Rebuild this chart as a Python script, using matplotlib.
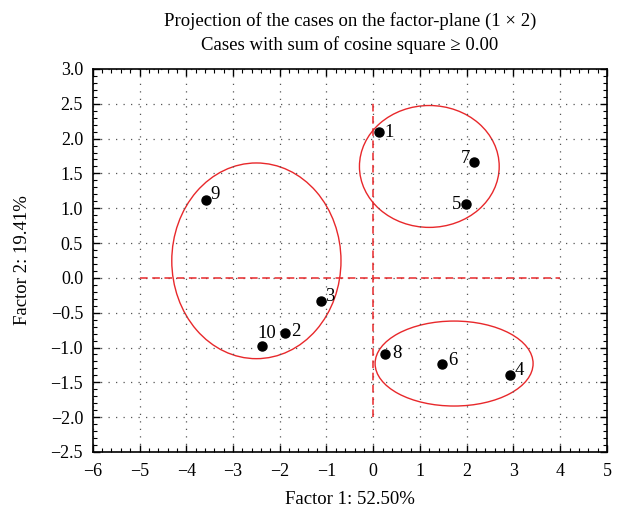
import matplotlib
matplotlib.use("Agg")
import matplotlib.pyplot as plt
from matplotlib.patches import Ellipse
from matplotlib.ticker import MultipleLocator, FuncFormatter

plt.rcParams['font.family'] = ['Liberation Serif', 'DejaVu Serif']

cases = ['1', '2', '3', '4', '5', '6', '7', '8', '9', '10']
factor1 = [0.13, -1.88, -1.12, 2.93, 1.98, 1.48, 2.16, 0.25, -3.57, -2.37]
factor2 = [2.09, -0.79, -0.33, -1.39, 1.06, -1.23, 1.66, -1.09, 1.12, -0.98]
# cluster ellipses: center x, center y, width, height
ell_cx = [1.2, -2.5, 1.73]
ell_cy = [1.6, 0.245, -1.23]
ell_w = [2.99, 3.62, 3.38]
ell_h = [1.75, 2.81, 1.22]

label_pos = {
    '1': (4, 0, 'left', 'center'), '2': (4, 1, 'left', 'center'),
    '3': (3, 3, 'left', 'center'), '4': (3, 3, 'left', 'center'),
    '5': (-3, 0, 'right', 'center'), '6': (4, 2, 'left', 'center'),
    '7': (-3, 3, 'right', 'center'), '8': (5, 0, 'left', 'center'),
    '9': (3, 4, 'left', 'center'), '10': (-4, 3, 'left', 'bottom'),
}

fig = plt.figure(figsize=(6.27, 5.07), dpi=100)
ax = fig.add_axes([0.148, 0.1085, 0.82, 0.7555])

ax.set_xlim(-6, 5)
ax.set_ylim(-2.5, 3.0)
ax.xaxis.set_major_locator(MultipleLocator(1))
ax.xaxis.set_minor_locator(MultipleLocator(0.2))
ax.yaxis.set_major_locator(MultipleLocator(0.5))
ax.yaxis.set_minor_locator(MultipleLocator(0.1))
ax.yaxis.set_major_formatter(FuncFormatter(lambda v, p: f"{v:.1f}".replace('-', '\u2212')))
ax.xaxis.set_major_formatter(FuncFormatter(lambda v, p: f"{v:.0f}".replace('-', '\u2212')))
ax.tick_params(which='both', direction='in', top=True, right=True, labelsize=13)
ax.tick_params(which='major', length=5, width=1)
ax.tick_params(axis='y', which='major', pad=7)
ax.tick_params(axis='x', which='major', pad=8)
ax.tick_params(which='minor', length=3, width=0.8)
for s in ax.spines.values():
    s.set_linewidth(1.2)
ax.grid(True, which='major', color='#555555', linestyle=(0, (1, 5)), linewidth=0.9)

ax.plot([-5, 4], [0, 0], color='#e8282b', linestyle=(0, (5, 3)), linewidth=1.1)
ax.plot([0, 0], [-2.0, 2.55], color='#e8282b', linestyle=(0, (5, 3)), linewidth=1.1)

for cx, cy, w, h in zip(ell_cx, ell_cy, ell_w, ell_h):
    ax.add_patch(Ellipse((cx, cy), w, h, fill=False, edgecolor='#e8282b', linewidth=1.0))

ax.plot(factor1, factor2, 'o', color='black', markersize=6.5, zorder=5)
for c, x, y in zip(cases, factor1, factor2):
    dx, dy, ha, va = label_pos[c]
    ax.annotate(c, (x, y), xytext=(dx, dy), textcoords='offset points',
                ha=ha, va=va, fontsize=13.5)

ax.set_title("Projection of the cases on the factor-plane (1 \u00d7 2)\nCases with sum of cosine square \u2265 0.00",
             fontsize=13.5, pad=14, linespacing=1.4)
ax.set_xlabel("Factor 1: 52.50%", fontsize=13.5, labelpad=8)
ax.set_ylabel("Factor 2: 19.41%", fontsize=13.5, labelpad=14)

fig.savefig("out.png", dpi=100)
